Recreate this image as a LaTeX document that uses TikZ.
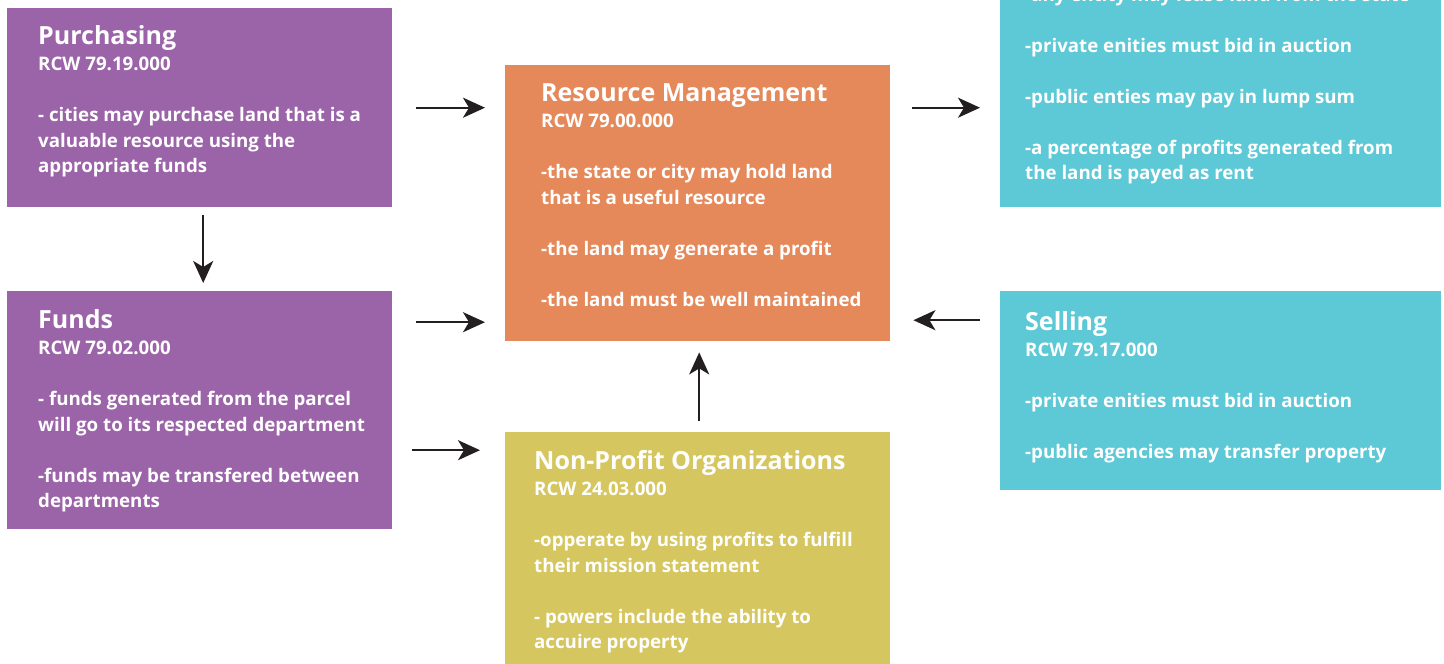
\documentclass[tikz,border=0pt]{standalone}
\usepackage{fontspec}
\setmainfont{Open Sans}
\usetikzlibrary{arrows.meta}
\definecolor{cPurple}{HTML}{9B64A8}
\definecolor{cOrange}{HTML}{E5895A}
\definecolor{cYellow}{HTML}{D6C65F}
\definecolor{cCyan}{HTML}{5DC8D6}
\definecolor{cArrow}{HTML}{231F20}
\newcommand{\ttl}[1]{{\fontsize{25}{25.5}\selectfont #1}\\[1pt]}
\newcommand{\boxtext}[1]{\begin{tabular}[t]{@{}l@{}}#1\end{tabular}}
\tikzset{
  box/.style={draw=none, rectangle, inner sep=0pt, anchor=north west},
  txt/.style={anchor=base west, inner sep=0pt, text=white,
    font=\bfseries\fontsize{18.7}{25.5}\selectfont},
  arr/.style={draw=cArrow, line width=2.3pt,
    -{Stealth[length=22pt,width=20pt,inset=6pt]}}
}
\begin{document}
\begin{tikzpicture}[x=1pt,y=-1pt]
\useasboundingbox (0,0) rectangle (1444,664);
\begin{scope}
\clip (0,0) rectangle (1444,664);
% boxes
\node[box, fill=cPurple, minimum width=385pt, minimum height=199pt] (purch) at (7,8) {};
\node[box, fill=cPurple, minimum width=385pt, minimum height=238pt] (funds) at (7,291) {};
\node[box, fill=cOrange, minimum width=385pt, minimum height=276pt] (res) at (505,65) {};
\node[box, fill=cYellow, minimum width=385pt, minimum height=240pt] (np) at (505,432) {};
\node[box, fill=cCyan, minimum width=441pt, minimum height=217pt] (lease) at (1000,-10) {};
\node[box, fill=cCyan, minimum width=441pt, minimum height=199pt] (sell) at (1000,291) {};
% texts
\node[txt] (purchT) at ([xshift=31pt,yshift=-36pt]purch.north west) {\boxtext{%
\ttl{Purchasing}
RCW 79.19.000\\ \\
- cities may purchase land that is a\\
valuable resource using the\\
appropriate funds}};
\node[txt] (fundsT) at ([xshift=31pt,yshift=-37pt]funds.north west) {\boxtext{%
\ttl{Funds}
RCW 79.02.000\\ \\
- funds generated from the parcel\\
will go to its respected department\\ \\
-funds may be transfered between\\
departments}};
\node[txt] (resT) at ([xshift=36pt,yshift=-36pt]res.north west) {\boxtext{%
\ttl{Resource Management}
RCW 79.00.000\\ \\
-the state or city may hold land\\
that is a useful resource\\ \\
-the land may generate a profit\\ \\
-the land must be well maintained}};
\node[txt] (npT) at ([xshift=29pt,yshift=-37pt]np.north west) {\boxtext{%
\ttl{Non-Profit Organizations}
RCW 24.03.000\\ \\
-opperate by using profits to fulfill\\
their mission statement\\ \\
- powers include the ability to\\
accuire property}};
\node[txt] (leaseT) at ([xshift=25pt,yshift=-11.5pt]lease.north west) {\boxtext{%
-any entity may lease land from the state\\ \\
-private enities must bid in auction\\ \\
-public enties may pay in lump sum\\ \\
-a percentage of profits generated from\\
the land is payed as rent}};
\node[txt] (sellT) at ([xshift=25pt,yshift=-39pt]sell.north west) {\boxtext{%
\ttl{Selling}
RCW 79.17.000\\ \\
-private enities must bid in auction\\ \\
-public agencies may transfer property}};
\end{scope}
% arrows
\draw[arr] ([xshift=24pt]purch.east) -- ([xshift=-20pt]res.west |- purch.east);
\draw[arr] ([xshift=24pt,yshift=88pt]funds.east) coordinate (f1) -- ([xshift=-20pt]res.west |- f1);
\draw[arr] ([xshift=20pt,yshift=-40pt]funds.east) coordinate (f2) -- ([xshift=-25pt]np.west |- f2);
\draw[arr] ([xshift=22pt]res.east |- purch.east) coordinate (r1) -- ([xshift=-20pt]lease.west |- r1);
\draw[arr] ([xshift=-20pt,yshift=70.5pt]sell.west) coordinate (s1) -- ([xshift=23pt]res.east |- s1);
\draw[arr] ([xshift=3.5pt,yshift=-8pt]purch.south) coordinate (p1) -- ([yshift=8pt]funds.north -| p1);
\draw[arr] ([xshift=1.5pt,yshift=11pt]np.north) coordinate (n1) -- ([yshift=-11pt]res.south -| n1);
\end{tikzpicture}
\end{document}
